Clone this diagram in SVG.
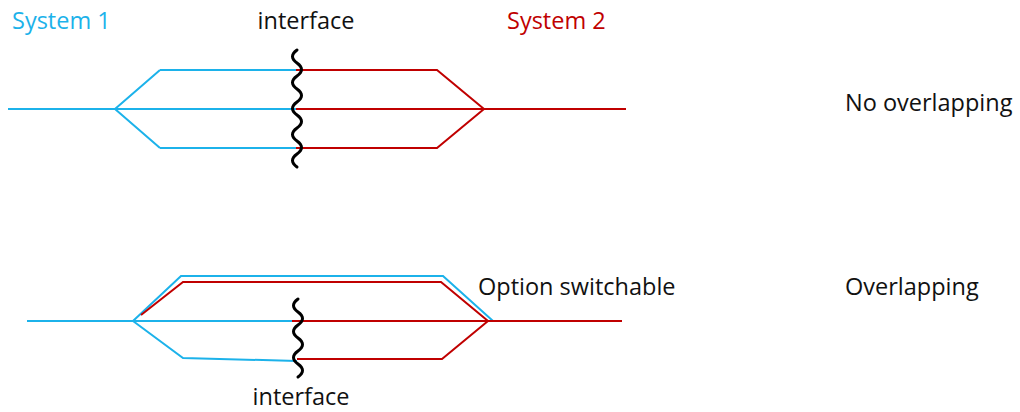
<svg xmlns="http://www.w3.org/2000/svg" width="1020" height="412" viewBox="0 0 1020 412">
<style>
.t{font-family:"Open Sans","Liberation Sans",sans-serif;font-size:23.5px;fill:#111}
.b{fill:none;stroke:#1CB2EA;stroke-width:2;stroke-linejoin:miter}
.r{fill:none;stroke:#C00000;stroke-width:2;stroke-linejoin:miter}
.w{fill:none;stroke:#000;stroke-width:3;stroke-linecap:round}
</style>
<rect width="1020" height="412" fill="#fff"/>
<g id="connectors">
<g id="top">
<path class="b" d="M8,109 H115 M160,70 L115,109 L160,148 M160,70 H296 M115,109 H296 M160,148 H296"/>
<path class="r" d="M296,70 H437 L484,109 L437,148 H296 M296,109 H626"/>
</g>
<g id="bottom">
<path class="b" d="M27,321 H294 M133,321 L181,276 H443 L493,321 M133,321 L183,358 L297,361"/>
<path class="r" d="M141,315 L183,282 H441 L488,321 L442,359 H297 M292,321 H622"/>
</g>
</g>
<g id="interface-top">
<path class="w" d="M297,50 q-9,6.5 0,13 t0,13 t0,13 t0,13 t0,13 t0,13 t0,13 t0,13 t0,13"/>
<text class="t" x="306" y="29" text-anchor="middle">interface</text>
</g>
<g id="interface-bottom">
<path class="w" d="M298,299 q-9,6.5 0,13 t0,13 t0,13 t0,13 t0,13 t0,13"/>
<text class="t" x="301" y="405" text-anchor="middle">interface</text>
</g>
<g id="system1"><text class="t" x="12" y="29" style="fill:#1CB2EA">System 1</text></g>
<g id="system2"><text class="t" x="507" y="29" style="fill:#C00000">System 2</text></g>
<g id="no-overlapping"><text class="t" x="845" y="111">No overlapping</text></g>
<g id="overlapping"><text class="t" x="845" y="295">Overlapping</text></g>
<g id="option"><text class="t" x="478" y="295">Option switchable</text></g>
</svg>
